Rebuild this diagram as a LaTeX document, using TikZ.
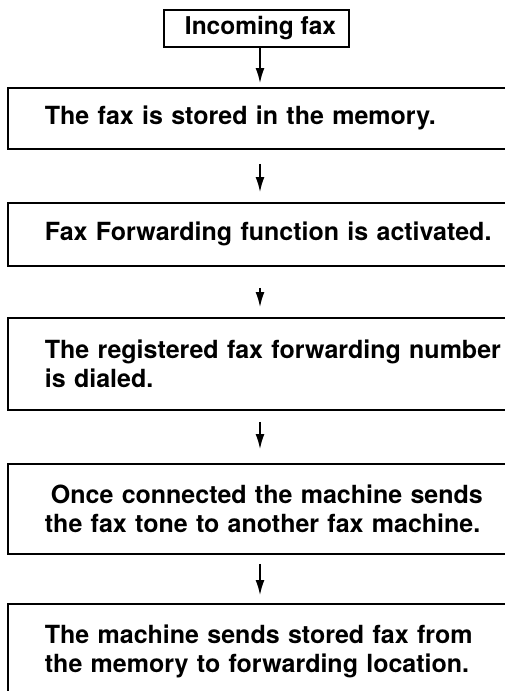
\documentclass[tikz,border=0pt]{standalone}
\usepackage{fontspec}
\setmainfont{TeX Gyre Heros}
\usetikzlibrary{arrows.meta}
\begin{document}
\begin{tikzpicture}[x=1pt,y=-1pt,
  boxline/.style={draw=black,line width=1.8pt},
  txt/.style={font=\fontsize{25}{29.5}\selectfont\bfseries},
  stepbox/.style={boxline,txt,anchor=north west,inner xsep=37pt,inner ysep=0pt,
    minimum width=600pt,text width=526pt,align=left},
  arr/.style={line width=1.5pt,-{Latex[length=15pt,width=9pt]}}
]
\clip (0,0) rectangle (505,691);
\useasboundingbox (0,0) rectangle (505,691);
\fill[white] (0,0) rectangle (505,691);
\coordinate (ax) at (260,0);
\node[boxline,font=\fontsize{24.5}{29}\selectfont\bfseries,minimum width=185pt,minimum height=37pt,inner sep=0pt] (b1) at (256.5,28.5) {\hspace*{8pt}Incoming fax};
\node[stepbox,minimum height=61pt] (b2) at (7,87) {The fax is stored in the memory.};
\node[stepbox,minimum height=63pt] (b3) at (7,202) {Fax Forwarding function is activated.};
\node[stepbox,minimum height=92pt] (b4) at (7,317) {The registered fax forwarding number\\is dialed.};
\node[stepbox,minimum height=90pt] (b5) at (7,463) {\hspace*{6pt}Once connected the machine sends\\the fax tone to another fax machine.};
\node[stepbox,minimum height=95pt] (b6) at (7,603) {The machine sends stored fax from\\the memory to forwarding location.};
\draw[arr,shorten >=4pt] (b1.south -| ax) -- (b2.north -| ax);
\draw[arr,shorten <=14pt,shorten >=10pt] (b2.south -| ax) -- (b3.north -| ax);
\draw[arr,shorten <=21pt,shorten >=10pt] (b3.south -| ax) -- (b4.north -| ax);
\draw[arr,shorten <=11pt,shorten >=14pt] (b4.south -| ax) -- (b5.north -| ax);
\draw[arr,shorten <=9pt,shorten >=8pt] (b5.south -| ax) -- (b6.north -| ax);
\end{tikzpicture}
\end{document}
